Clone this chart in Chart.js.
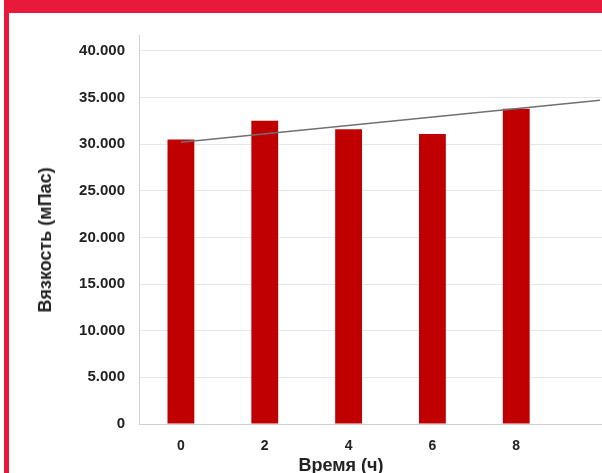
<!DOCTYPE html>
<html>
<head>
<meta charset="utf-8">
<script src="https://cdn.jsdelivr.net/npm/chart.js@4"></script>
<style>
  html, body { margin: 0; padding: 0; background: #fff; overflow: hidden; }
  #wrap { position: relative; width: 602px; height: 473px; overflow: hidden; }
  #chartBox { position: absolute; left: 0; top: 0; width: 642px; height: 473px; }
  .banner { position: absolute; left: 4px; top: 0; width: 598px; height: 13px; background: #e8193a; }
  .sideBar { position: absolute; left: 4px; top: 0; width: 5px; height: 473px; background: #e8193a; }
  .axisTitle { position: absolute; font: bold 18px "Liberation Sans", Arial, sans-serif; color: #222; white-space: nowrap; line-height: 1; }
  #yTitle { left: 45px; top: 240px; transform: translate(-50%, -50%) rotate(-90deg); }
  #xTitle { left: 341px; top: 465px; transform: translate(-50%, -50%); }
</style>
</head>
<body>
<div id="wrap">
  <div id="chartBox"><canvas id="viscChart"></canvas></div>
  <div class="banner"></div>
  <div class="sideBar"></div>
  <div class="axisTitle" id="yTitle">Вязкость (мПас)</div>
  <div class="axisTitle" id="xTitle">Время (ч)</div>
</div>
<script>
// время, ч (последняя категория пустая - линия тренда уходит за край)
const hours = ['0', '2', '4', '6', '8', ''];
// вязкость, мПас
const viscosity = [30500, 32500, 31600, 31100, 33800, null];
// линия тренда: только начальная и конечная точки
const trend = [30200, null, null, null, null, 34700];
// деления оси Y
const yTicks = [0, 5000, 10000, 15000, 20000, 25000, 30000, 35000, 40000];

const family = '"Liberation Sans", Arial, sans-serif';

new Chart(document.getElementById('viscChart'), {
    type: 'bar',
    data: {
        labels: hours,
        datasets: [
            {
                type: 'line',
                label: 'Тренд',
                data: trend,
                borderColor: '#707070',
                borderWidth: 1.4,
                pointRadius: 0,
                spanGaps: true,
                order: 0
            },
            {
                label: 'Вязкость (мПас)',
                data: viscosity,
                backgroundColor: '#c00000',
                barPercentage: 0.32,
                categoryPercentage: 1,
                order: 1
            }
        ]
    },
    options: {
        responsive: true,
        maintainAspectRatio: false,
        animation: false,
        layout: { padding: { top: 35, left: 0, right: 0, bottom: 0 } },
        plugins: {
            legend: { display: false },
            tooltip: { enabled: false }
        },
        scales: {
            x: {
                grid: { display: false },
                border: { color: '#d0d0d0' },
                ticks: { font: { family, size: 14, weight: 'bold' }, color: '#222', padding: 6 },
                afterFit: s => { s.height = 49; }
            },
            y: {
                min: 0,
                max: 41700,
                grid: { drawTicks: false, color: '#e6e6e6' },
                border: { color: '#d0d0d0' },
                ticks: {
                    autoSkip: false,
                    font: { family, size: 15, weight: 'bold' },
                    color: '#222',
                    padding: 14,
                    callback: v => v === 0 ? '0' : String(v).replace(/(\d)(?=(\d{3})+$)/g, '$1.')
                },
                afterBuildTicks: s => { s.ticks = yTicks.map(v => ({ value: v })); },
                afterFit: s => { s.width = 139; }
            }
        }
    }
});
</script>
</body>
</html>
